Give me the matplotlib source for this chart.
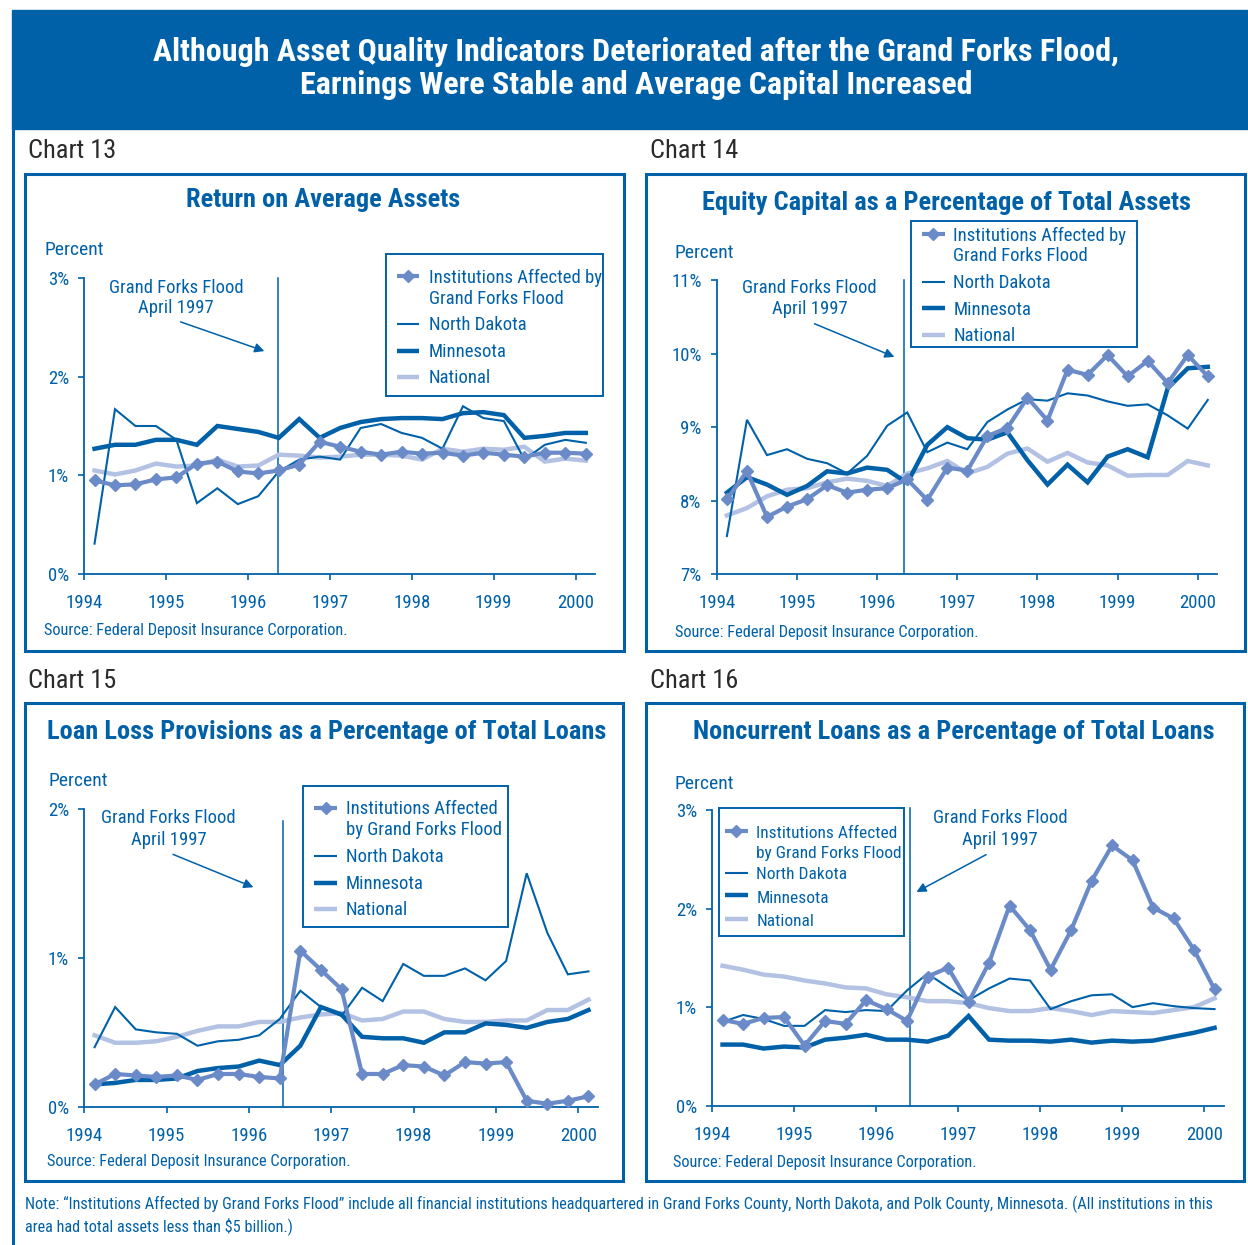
import matplotlib
matplotlib.use("Agg")
import matplotlib.pyplot as plt
from matplotlib import font_manager as fm
from matplotlib.patches import Rectangle, FancyArrowPatch
from matplotlib.lines import Line2D

# Figure size in pixels (dpi 100)
W, H = 1248, 1245

BLUE = "#0061A9"
AFFECTED_C = "#6A8BC8"
NATIONAL_C = "#B3C1E3"
GRAY = "#2B2B2B"


def pick_font():
    # the original uses a condensed face, look for the closest one installed
    entries = fm.fontManager.ttflist
    names = {e.name for e in entries}
    for n in ["Liberation Sans Narrow", "Roboto Condensed", "Open Sans Condensed",
              "Noto Sans Condensed", "DejaVu Sans Condensed", "Arial Narrow"]:
        if n in names:
            return n, "normal", 1.0
    for pref in ["Roboto", "Noto Sans", "Open Sans", "DejaVu Sans", "Liberation Sans"]:
        for e in entries:
            if e.name == pref and e.stretch in ("condensed", "semi-condensed",
                                                "extra-condensed", "ultra-condensed"):
                return pref, e.stretch, 1.0
    return "Liberation Sans", "normal", 0.84


FAMILY, STRETCH, SIZE_K = pick_font()
plt.rcParams["font.family"] = [FAMILY, "DejaVu Sans"]
plt.rcParams["font.stretch"] = STRETCH


def fs(v):
    return v * SIZE_K


# ---- data (quarterly, 1994 Q1 .. 2000 Q1) ----
quarters = ["94Q1", "94Q2", "94Q3", "94Q4", "95Q1", "95Q2", "95Q3", "95Q4",
            "96Q1", "96Q2", "96Q3", "96Q4", "97Q1", "97Q2", "97Q3", "97Q4",
            "98Q1", "98Q2", "98Q3", "98Q4", "99Q1", "99Q2", "99Q3", "99Q4",
            "00Q1"]
year_labels = ["1994", "1995", "1996", "1997", "1998", "1999", "2000"]

# Chart 13: Return on average assets
roa_affected = [0.95, 0.90, 0.91, 0.96, 0.98, 1.12, 1.14, 1.04, 1.02, 1.05, 1.11, 1.34, 1.29,
                1.24, 1.21, 1.24, 1.22, 1.23, 1.20, 1.23, 1.21, 1.19, 1.23, 1.23, 1.22]
roa_nd = [0.31, 1.67, 1.50, 1.50, 1.36, 0.72, 0.87, 0.71, 0.79, 1.04, 1.16, 1.19, 1.16,
          1.48, 1.52, 1.43, 1.38, 1.27, 1.70, 1.58, 1.55, 1.16, 1.31, 1.36, 1.33]
roa_mn = [1.27, 1.31, 1.31, 1.36, 1.36, 1.31, 1.50, 1.47, 1.44, 1.38, 1.57, 1.38, 1.48,
          1.54, 1.57, 1.58, 1.58, 1.57, 1.63, 1.64, 1.61, 1.38, 1.40, 1.43, 1.43]
roa_nat = [1.05, 1.01, 1.05, 1.12, 1.09, 1.10, 1.16, 1.09, 1.10, 1.21, 1.20, 1.18, 1.19,
           1.21, 1.21, 1.20, 1.16, 1.27, 1.24, 1.27, 1.26, 1.29, 1.14, 1.17, 1.15]

# Chart 14: Equity capital / total assets
eq_affected = [8.02, 8.40, 7.78, 7.92, 8.02, 8.21, 8.11, 8.15, 8.17, 8.29, 8.01, 8.45, 8.41,
               8.88, 8.99, 9.40, 9.09, 9.78, 9.71, 9.98, 9.69, 9.90, 9.60, 9.98, 9.69]
eq_nd = [7.52, 9.10, 8.62, 8.70, 8.57, 8.51, 8.37, 8.61, 9.02, 9.20, 8.66, 8.79, 8.70,
         9.07, 9.24, 9.38, 9.36, 9.46, 9.43, 9.35, 9.29, 9.31, 9.16, 8.98, 9.37]
eq_mn = [8.11, 8.32, 8.22, 8.08, 8.20, 8.40, 8.37, 8.45, 8.42, 8.24, 8.76, 9.00, 8.85,
         8.83, 8.93, 8.55, 8.22, 8.49, 8.25, 8.60, 8.70, 8.59, 9.53, 9.80, 9.82]
eq_nat = [7.80, 7.90, 8.06, 8.15, 8.17, 8.25, 8.30, 8.27, 8.20, 8.37, 8.44, 8.54, 8.37,
          8.46, 8.64, 8.71, 8.53, 8.65, 8.52, 8.48, 8.34, 8.35, 8.35, 8.54, 8.48]

# Chart 15: Loan loss provisions / total loans
llp_affected = [0.15, 0.22, 0.21, 0.20, 0.21, 0.18, 0.22, 0.22, 0.20, 0.19, 1.05, 0.92, 0.79,
                0.22, 0.22, 0.28, 0.27, 0.21, 0.30, 0.29, 0.30, 0.04, 0.02, 0.04, 0.07]
llp_nd = [0.40, 0.67, 0.52, 0.50, 0.49, 0.41, 0.44, 0.45, 0.48, 0.59, 0.78, 0.67, 0.61,
          0.80, 0.71, 0.96, 0.88, 0.88, 0.93, 0.85, 0.98, 1.57, 1.17, 0.89, 0.91]
llp_mn = [0.15, 0.16, 0.18, 0.18, 0.19, 0.24, 0.26, 0.27, 0.31, 0.28, 0.41, 0.67, 0.62,
          0.47, 0.46, 0.46, 0.43, 0.50, 0.50, 0.56, 0.55, 0.53, 0.57, 0.59, 0.65]
llp_nat = [0.48, 0.43, 0.43, 0.44, 0.47, 0.51, 0.54, 0.54, 0.57, 0.57, 0.60, 0.62, 0.63,
           0.58, 0.59, 0.64, 0.64, 0.59, 0.57, 0.57, 0.58, 0.58, 0.65, 0.65, 0.72]

# Chart 16: Noncurrent loans / total loans
nc_affected = [0.87, 0.83, 0.89, 0.90, 0.61, 0.86, 0.83, 1.07, 0.98, 0.86, 1.31, 1.40, 1.05,
               1.45, 2.03, 1.78, 1.38, 1.78, 2.28, 2.64, 2.49, 2.01, 1.90, 1.58, 1.18]
nc_nd = [0.85, 0.92, 0.88, 0.81, 0.81, 0.97, 0.95, 0.97, 0.96, 1.17, 1.34, 1.20, 1.07,
         1.19, 1.29, 1.27, 0.98, 1.06, 1.12, 1.13, 1.00, 1.04, 1.01, 0.99, 0.98]
nc_mn = [0.62, 0.62, 0.58, 0.60, 0.59, 0.67, 0.69, 0.72, 0.67, 0.67, 0.65, 0.71, 0.91,
         0.67, 0.66, 0.66, 0.65, 0.67, 0.64, 0.66, 0.65, 0.66, 0.70, 0.74, 0.79]
nc_nat = [1.42, 1.38, 1.33, 1.31, 1.27, 1.24, 1.20, 1.19, 1.13, 1.10, 1.06, 1.06, 1.04,
          0.99, 0.96, 0.96, 0.99, 0.96, 0.92, 0.96, 0.95, 0.94, 0.97, 1.00, 1.09]


def fx(x):
    return x / W


def fy(y):
    return 1 - y / H


fig = plt.figure(figsize=(W / 100, H / 100), dpi=100)

# header band
fig.patches.append(Rectangle((fx(12), fy(129)), fx(W) - fx(12), fy(10) - fy(129),
                             transform=fig.transFigure, color=BLUE, zorder=0))
fig.add_artist(Line2D([fx(13), fx(13)], [fy(129), fy(H)], color=BLUE, lw=2.2))
fig.text(fx(636), fy(61), "Although Asset Quality Indicators Deteriorated after the Grand Forks Flood,",
         color="white", fontsize=fs(23), fontweight="bold", ha="center", va="baseline")
fig.text(fx(636), fy(94.5), "Earnings Were Stable and Average Capital Increased",
         color="white", fontsize=fs(23), fontweight="bold", ha="center", va="baseline")

panels = [
    dict(name="Chart 13", title="Return on Average Assets",
         series=(roa_affected, roa_nd, roa_mn, roa_nat),
         box=(25, 174, 624, 651), name_xy=(28, 158), title_xy=(323, 207.5),
         axes=(84.3, 277.7, 595.2, 574.3), ylim=(0, 3), yticks=[0, 1, 2, 3],
         flood=8.94, flood_top=3.0,
         percent_xy=(44, 255), source_xy=(44, 635),
         flood_text=(176, 292.7, 313.3), arrow=((178, 321), (267, 352)),
         legend=dict(box=(385.5, 254, 603, 396), hx=(397, 419), tx=428.7, size=13.5,
                     rows=[275.7, 324, 350.7, 377.3],
                     text=[(283.3, "Institutions Affected by"), (304, "Grand Forks Flood"),
                           (330, "North Dakota"), (356.7, "Minnesota"), (383.3, "National")])),
    dict(name="Chart 14", title="Equity Capital as a Percentage of Total Assets",
         series=(eq_affected, eq_nd, eq_mn, eq_nat),
         box=(646, 174, 1245, 651), name_xy=(650, 158), title_xy=(946, 210),
         axes=(716.9, 280, 1217, 574.3), ylim=(7, 11), yticks=[7, 8, 9, 10, 11],
         flood=8.86, flood_top=11.0,
         percent_xy=(675, 258), source_xy=(675, 637),
         flood_text=(809.5, 293.3, 314), arrow=((812, 322.7), (897, 358)),
         legend=dict(box=(910.6, 221, 1137, 347), hx=(921.5, 944.5), tx=953.3, size=13.5,
                     rows=[234, 281.7, 308.3, 335],
                     text=[(241, "Institutions Affected by"), (261, "Grand Forks Flood"),
                           (288.3, "North Dakota"), (315, "Minnesota"), (341, "National")])),
    dict(name="Chart 15", title="Loan Loss Provisions as a Percentage of Total Loans",
         series=(llp_affected, llp_nd, llp_mn, llp_nat),
         box=(25, 703, 623, 1181), name_xy=(28, 687.7), title_xy=(327, 739.3),
         axes=(84.3, 809.3, 597.9, 1106.7), ylim=(0, 2), yticks=[0, 1, 2],
         flood=9.17, flood_top=1.92,
         percent_xy=(48, 786), source_xy=(47, 1166),
         flood_text=(168.5, 823.3, 845), arrow=((170.4, 853.3), (256, 888.3)),
         legend=dict(box=(302.5, 785.7, 508, 927.3), hx=(314, 337), tx=345.7, size=13.5,
                     rows=[807.7, 855.7, 882.7, 909.3],
                     text=[(814.3, "Institutions Affected"), (835, "by Grand Forks Flood"),
                           (862.3, "North Dakota"), (889, "Minnesota"), (915, "National")])),
    dict(name="Chart 16", title="Noncurrent Loans as a Percentage of Total Loans",
         series=(nc_affected, nc_nd, nc_mn, nc_nat),
         box=(646, 703, 1244, 1181), name_xy=(650, 687.7), title_xy=(954, 739.3),
         axes=(712.3, 810, 1224, 1105.7), ylim=(0, 3), yticks=[0, 1, 2, 3],
         flood=9.12, flood_top=3.02,
         percent_xy=(675, 789), source_xy=(673, 1166.7),
         flood_text=(1000, 823.3, 845), arrow=((988.6, 853.3), (914, 893.3)),
         legend=dict(box=(718.8, 808.3, 903.6, 936), hx=(724.5, 747.5), tx=756.3, size=12.5,
                     rows=[831, 872.7, 895.3, 919],
                     text=[(837.7, "Institutions Affected"), (857.7, "by Grand Forks Flood"),
                           (879.3, "North Dakota"), (902.7, "Minnesota"), (925.7, "National")])),
]

STYLES = [
    dict(color=AFFECTED_C, lw=3.0, marker="D", ms=6.0, zorder=5),   # affected
    dict(color=BLUE, lw=1.5, marker=None, ms=0, zorder=4),          # North Dakota
    dict(color=BLUE, lw=3.2, marker=None, ms=0, zorder=3),          # Minnesota
    dict(color=NATIONAL_C, lw=3.2, marker=None, ms=0, zorder=2),    # National
]
DRAW_ORDER = [3, 2, 1, 0]

for p in panels:
    x0, y0, x1, y1 = p["box"]
    fig.patches.append(Rectangle((fx(x0), fy(y1)), fx(x1) - fx(x0), fy(y0) - fy(y1),
                                 transform=fig.transFigure, fill=False,
                                 edgecolor=BLUE, lw=2.2, zorder=1))
    fig.text(fx(p["name_xy"][0]), fy(p["name_xy"][1]), p["name"], color=GRAY,
             fontsize=fs(19), ha="left", va="baseline")
    fig.text(fx(p["title_xy"][0]), fy(p["title_xy"][1]), p["title"], color=BLUE,
             fontsize=fs(19), fontweight="bold", ha="center", va="baseline")
    fig.text(fx(p["percent_xy"][0]), fy(p["percent_xy"][1]), "Percent", color=BLUE,
             fontsize=fs(14), ha="left", va="baseline")
    fig.text(fx(p["source_xy"][0]), fy(p["source_xy"][1]),
             "Source: Federal Deposit Insurance Corporation.", color=BLUE,
             fontsize=fs(11.8), ha="left", va="baseline")

    al, at, ar, ab = p["axes"]
    ax = fig.add_axes([fx(al), fy(ab), fx(ar) - fx(al), fy(at) - fy(ab)])
    ax.patch.set_alpha(0)
    x = list(range(len(quarters)))
    for k in DRAW_ORDER:
        st = STYLES[k]
        ax.plot(x, p["series"][k], color=st["color"], lw=st["lw"], marker=st["marker"],
                ms=st["ms"], zorder=st["zorder"], solid_joinstyle="miter", clip_on=False)
    ax.plot([p["flood"], p["flood"]], [p["ylim"][0], p["flood_top"]], color=BLUE,
            lw=1.1, zorder=1, clip_on=False)

    ax.set_xlim(-0.5, 24.46)
    ax.set_ylim(*p["ylim"])
    ax.set_xticks([4 * k - 0.5 for k in range(len(year_labels))])
    ax.set_xticklabels(year_labels)
    ax.set_yticks(p["yticks"])
    ax.set_yticklabels([f"{v}%" for v in p["yticks"]])
    for s in ("top", "right"):
        ax.spines[s].set_visible(False)
    for s in ("left", "bottom"):
        ax.spines[s].set_color(BLUE)
        ax.spines[s].set_linewidth(1.3)
    ax.tick_params(axis="both", colors=BLUE, labelsize=fs(13.5), width=1.2, length=4,
                   direction="out")
    ax.tick_params(axis="x", pad=10.5)
    ax.tick_params(axis="y", pad=7)

    # flood annotation
    tx, ty1, ty2 = p["flood_text"]
    fig.text(fx(tx), fy(ty1), "Grand Forks Flood", color=BLUE, fontsize=fs(13.4),
             ha="center", va="baseline")
    fig.text(fx(tx), fy(ty2), "April 1997", color=BLUE, fontsize=fs(13.4),
             ha="center", va="baseline")
    (sx, sy), (ex, ey) = p["arrow"]
    fig.patches.append(FancyArrowPatch((fx(sx), fy(sy)), (fx(ex), fy(ey)),
                                       transform=fig.transFigure, arrowstyle="-|>",
                                       mutation_scale=14, color=BLUE, lw=1.1))

    # legend
    lg = p["legend"]
    bx0, by0, bx1, by1 = lg["box"]
    fig.patches.append(Rectangle((fx(bx0), fy(by1)), fx(bx1) - fx(bx0), fy(by0) - fy(by1),
                                 transform=fig.transFigure, fill=False,
                                 edgecolor=BLUE, lw=1.4, zorder=6))
    hx0, hx1 = lg["hx"]
    for k, ry in enumerate(lg["rows"]):
        st = STYLES[k]
        fig.add_artist(Line2D([fx(hx0), fx(hx1)], [fy(ry), fy(ry)], color=st["color"],
                              lw=st["lw"], solid_capstyle="butt"))
        if st["marker"]:
            fig.add_artist(Line2D([fx((hx0 + hx1) / 2)], [fy(ry)], color=st["color"],
                                  marker=st["marker"], ms=st["ms"], lw=0))
    for ty, txt in lg["text"]:
        fig.text(fx(lg["tx"]), fy(ty), txt, color=BLUE, fontsize=fs(lg["size"]),
                 ha="left", va="baseline")

fig.text(fx(25), fy(1209),
         "Note: \u201cInstitutions Affected by Grand Forks Flood\u201d include all financial institutions "
         "headquartered in Grand Forks County, North Dakota, and Polk County, Minnesota. "
         "(All institutions in this", color=BLUE, fontsize=fs(11.7), ha="left", va="baseline")
fig.text(fx(25), fy(1230.7), "area had total assets less than $5 billion.)", color=BLUE,
         fontsize=fs(11.7), ha="left", va="baseline")

fig.savefig("out.png", dpi=100)
